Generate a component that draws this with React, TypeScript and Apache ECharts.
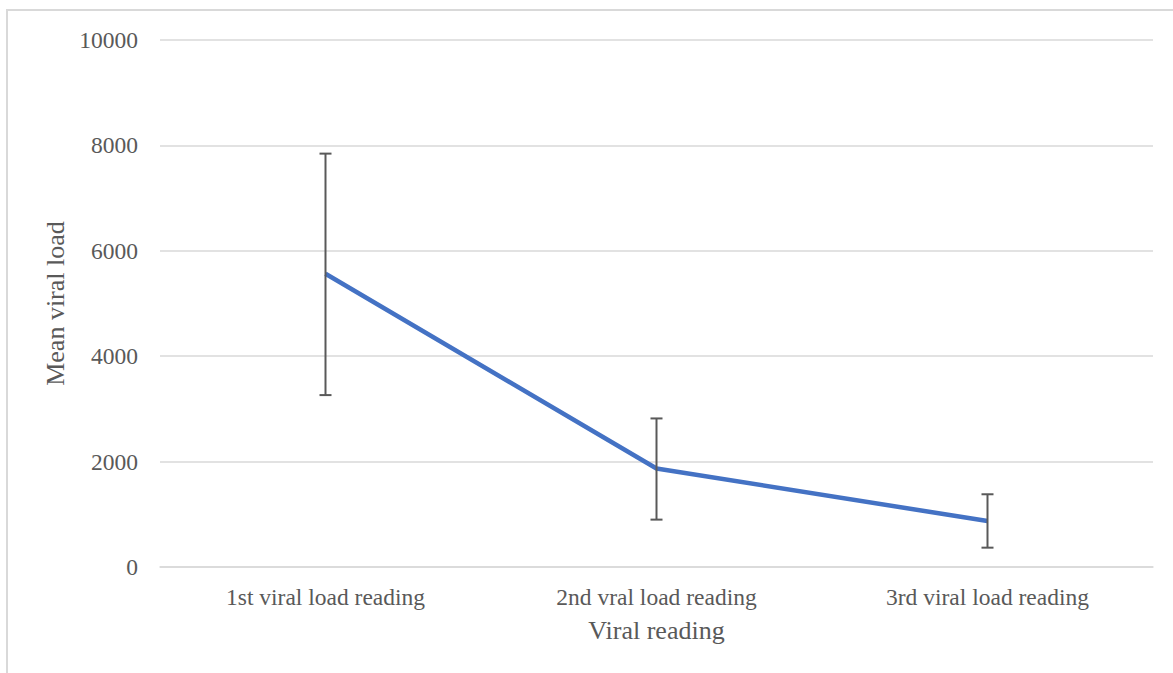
import React, { useEffect, useRef } from "react";
import * as echarts from "echarts";

const categories = ["1st viral load reading", "2nd vral load reading", "3rd viral load reading"];
const meanValues = [5565, 1868, 873];
const errLow = [3262, 899, 367];
const errHigh = [7844, 2819, 1380];
const yTicks = { min: 0, max: 10000, interval: 2000 };

export default function App() {
  const ref = useRef<HTMLDivElement>(null);
  useEffect(() => {
    const chart = echarts.init(ref.current!, null, { renderer: "svg" });
    const font = "'Liberation Serif', 'Times New Roman', serif";
    chart.setOption({
      animation: false,
      backgroundColor: "#ffffff",
      textStyle: { fontFamily: font },
      graphic: [
        {
          type: "rect",
          shape: { x: 7, y: 10, width: 1250, height: 720 },
          style: { fill: "none", stroke: "#d9d9d9", lineWidth: 2 },
          silent: true,
          z: -1,
        },
      ],
      grid: { left: 160, right: 20, top: 40, bottom: 106 },
      xAxis: {
        type: "category",
        data: categories,
        boundaryGap: true,
        axisLine: { show: true, lineStyle: { color: "#d9d9d9", width: 1.5 } },
        axisTick: { show: false },
        axisLabel: { color: "#595959", fontSize: 23.5, fontFamily: font, margin: 18 },
        name: "Viral reading",
        nameLocation: "middle",
        nameGap: 50,
        nameTextStyle: { color: "#595959", fontSize: 26, fontFamily: font },
      },
      yAxis: {
        type: "value",
        min: yTicks.min,
        max: yTicks.max,
        interval: yTicks.interval,
        axisLine: { show: false },
        axisTick: { show: false },
        splitLine: { show: true, lineStyle: { color: "#d9d9d9", width: 1.5 } },
        axisLabel: {
          color: "#595959",
          fontSize: 23.5,
          fontFamily: font,
          margin: 22,
          formatter: (v: number) => String(v),
        },
        name: "Mean viral load",
        nameLocation: "middle",
        nameGap: 92,
        nameRotate: 90,
        nameTextStyle: { color: "#595959", fontSize: 26, fontFamily: font },
      },
      series: [
        {
          type: "line",
          data: meanValues,
          symbol: "none",
          lineStyle: { color: "#4472C4", width: 4.5 },
          z: 3,
        },
        {
          type: "custom",
          data: categories.map((_, i) => [i, errLow[i], errHigh[i]]),
          z: 4,
          renderItem: (params: any, api: any) => {
            const x = api.value(0);
            const lo = api.coord([x, api.value(1)]);
            const hi = api.coord([x, api.value(2)]);
            const cap = 6;
            const style = { stroke: "#595959", lineWidth: 2 };
            return {
              type: "group",
              children: [
                { type: "line", shape: { x1: lo[0], y1: lo[1], x2: hi[0], y2: hi[1] }, style },
                { type: "line", shape: { x1: hi[0] - cap, y1: hi[1], x2: hi[0] + cap, y2: hi[1] }, style },
                { type: "line", shape: { x1: lo[0] - cap, y1: lo[1], x2: lo[0] + cap, y2: lo[1] }, style },
              ],
            };
          },
        },
      ],
    });
    return () => chart.dispose();
  }, []);
  return (
    <div
      ref={ref}
      style={{ position: "fixed", left: 0, top: 0, width: 1173, height: 673, background: "#fff" }}
    />
  );
}
